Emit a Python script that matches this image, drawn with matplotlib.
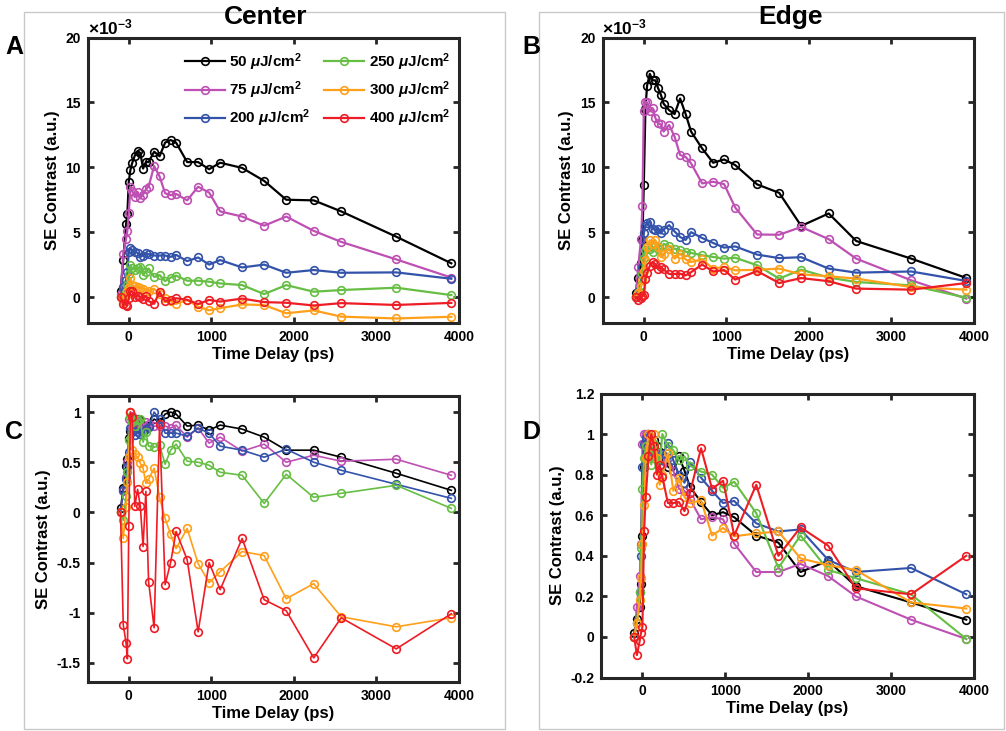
import numpy as np
import matplotlib
matplotlib.use("Agg")
import matplotlib.pyplot as plt
from matplotlib.patches import Rectangle
from matplotlib.ticker import FuncFormatter

plt.rcParams["font.family"] = ["Liberation Sans", "DejaVu Sans"]
plt.rcParams["font.weight"] = "bold"
plt.rcParams["axes.unicode_minus"] = False
plt.rcParams["mathtext.fontset"] = "custom"
plt.rcParams["mathtext.rm"] = "Liberation Sans:bold"
plt.rcParams["mathtext.it"] = "Liberation Sans:italic"
plt.rcParams["mathtext.bf"] = "Liberation Sans:bold"

#### Data (time delay in ps, contrast in units of 1e-3 for A/B, normalised for C/D)

t = [-100, -67, -33, -17, 0, 20, 40, 73, 107, 140, 173, 207, 240, 307, 373,
     440, 507, 573, 707, 840, 973, 1107, 1373, 1640, 1907, 2240, 2573, 3240, 3907]

labels = ["50 $\\mu$J/cm$^{2}$", "75 $\\mu$J/cm$^{2}$", "200 $\\mu$J/cm$^{2}$",
          "250 $\\mu$J/cm$^{2}$", "300 $\\mu$J/cm$^{2}$", "400 $\\mu$J/cm$^{2}$"]
colors = ["#000000", "#BE50B4", "#3352AA", "#66BE44", "#FF9F1A", "#EE1C24"]

# panel A - center
a_50 = [0.5, 2.85, 5.6, 6.4, 8.9, 9.8, 10.3, 10.9, 11.25, 11.1, 9.9, 10.4, 10.4, 11.2, 10.85,
        11.9, 12.1, 11.9, 10.4, 10.4, 9.85, 10.35, 9.95, 8.95, 7.5, 7.45, 6.6, 4.65, 2.6]
a_75 = [0.2, 3.3, 4.5, 5.1, 6.5, 8.5, 8.2, 7.7, 8.1, 7.6, 7.9, 8.3, 8.5, 10.1, 9.3,
        8.0, 7.85, 7.95, 7.45, 8.5, 8.05, 6.6, 6.2, 5.5, 6.2, 5.1, 4.25, 2.9, 1.5]
a_200 = [0.0, 0.8, 1.3, 1.9, 3.5, 3.75, 3.6, 3.5, 3.4, 3.1, 3.2, 3.4, 3.3, 3.2, 3.2,
         3.2, 3.1, 3.25, 2.77, 3.05, 2.5, 2.85, 2.28, 2.5, 1.87, 2.08, 1.87, 1.9, 1.41]
a_250 = [0.0, -0.2, 0.4, 0.9, 1.8, 2.45, 2.2, 2.1, 2.2, 2.35, 1.7, 1.95, 2.2, 1.55, 1.7,
         1.23, 1.5, 1.65, 1.26, 1.26, 1.18, 1.05, 0.92, 0.23, 0.92, 0.41, 0.54, 0.72, 0.15]
a_300 = [0.0, -0.38, 0.07, 0.44, 0.8, 1.45, 0.9, 0.84, 0.8, 0.71, 0.64, 0.42, 0.48, 0.64, 0.22,
         -0.09, -0.32, -0.52, -0.23, -0.74, -1.02, -0.86, -0.57, -0.62, -1.25, -1.03, -1.51, -1.65, -1.52]
a_400 = [0.0, -0.5, -0.58, -0.66, -0.06, 0.45, 0.43, 0.03, 0.1, 0.03, -0.15, 0.1, -0.31, -0.52, 0.4,
         -0.32, -0.22, -0.09, -0.21, -0.54, -0.22, -0.35, -0.12, -0.39, -0.44, -0.65, -0.47, -0.61, -0.45]

# panel B - edge
b_50 = [0.3, 1.5, 2.6, 4.4, 8.6, 14.5, 16.3, 17.2, 16.7, 16.7, 16.1, 15.6, 14.9, 14.4, 14.1,
        15.3, 14.1, 12.75, 11.45, 10.35, 10.6, 10.17, 8.68, 8.03, 5.48, 6.44, 4.32, 2.96, 1.47]
b_75 = [0.0, 2.3, 4.5, 7.0, 14.3, 15.06, 15.0, 14.3, 14.55, 13.8, 13.4, 13.3, 12.75, 13.26, 12.36,
        10.95, 10.8, 10.3, 8.76, 8.88, 8.7, 6.9, 4.82, 4.8, 5.4, 4.46, 2.96, 1.29, -0.12]
b_200 = [0.0, 0.4, 1.3, 2.3, 4.9, 5.5, 5.7, 5.8, 5.28, 5.15, 5.28, 4.9, 5.2, 5.54, 5.05,
         4.63, 4.4, 5.0, 4.55, 4.17, 3.81, 3.9, 3.27, 3.0, 3.07, 2.19, 1.88, 1.97, 1.24]
b_250 = [0.0, 0.3, 0.9, 1.8, 3.0, 3.6, 3.86, 3.7, 3.5, 3.9, 3.73, 3.5, 4.1, 3.9, 3.73,
         3.6, 3.5, 3.4, 3.22, 3.09, 2.96, 3.03, 2.45, 1.42, 2.11, 1.5, 1.16, 0.9, -0.05]
b_300 = [0.0, 0.3, 0.8, 1.29, 2.0, 2.83, 3.86, 4.38, 4.12, 4.38, 3.86, 3.09, 3.35, 3.73, 2.96,
         3.35, 2.9, 2.7, 2.9, 2.19, 2.32, 2.06, 2.1, 2.19, 1.75, 1.6, 1.42, 0.77, 0.57]
b_400 = [0.0, -0.25, -0.05, 0.05, 0.14, 1.4, 1.86, 2.4, 2.7, 2.54, 2.16, 2.3, 2.13, 1.78, 1.78,
         1.8, 1.67, 1.92, 2.5, 1.97, 2.08, 1.35, 2.0, 1.08, 1.46, 1.22, 0.65, 0.57, 1.08]

# panel C - center, normalised
c_50 = [0.04, 0.24, 0.46, 0.53, 0.74, 0.81, 0.85, 0.9, 0.93, 0.92, 0.82, 0.86, 0.86, 0.93, 0.9,
        0.98, 1.0, 0.98, 0.86, 0.87, 0.82, 0.87, 0.83, 0.75, 0.62, 0.62, 0.55, 0.39, 0.22]
c_75 = [0.0, 0.21, 0.35, 0.5, 0.93, 1.0, 0.96, 0.93, 0.9, 0.83, 0.85, 0.9, 0.88, 0.86, 0.86,
        0.86, 0.84, 0.87, 0.75, 0.84, 0.69, 0.75, 0.61, 0.68, 0.5, 0.57, 0.51, 0.53, 0.37]
c_200 = [0.0, 0.22, 0.33, 0.45, 0.6, 0.84, 0.8, 0.77, 0.8, 0.78, 0.8, 0.83, 0.85, 1.0, 0.93,
         0.79, 0.79, 0.79, 0.76, 0.84, 0.79, 0.66, 0.62, 0.55, 0.63, 0.5, 0.42, 0.28, 0.14]
c_250 = [0.0, -0.08, 0.16, 0.4, 0.72, 0.95, 0.9, 0.86, 0.92, 0.93, 0.7, 0.8, 0.66, 0.65, 0.67,
         0.48, 0.62, 0.68, 0.51, 0.5, 0.47, 0.4, 0.37, 0.09, 0.38, 0.15, 0.19, 0.27, 0.04]
c_300 = [0.0, -0.26, 0.05, 0.3, 0.55, 1.0, 0.62, 0.58, 0.55, 0.49, 0.44, 0.29, 0.33, 0.44, 0.15,
         -0.06, -0.22, -0.36, -0.16, -0.51, -0.70, -0.59, -0.39, -0.43, -0.86, -0.71, -1.04, -1.14, -1.05]
c_400 = [0.0, -1.12, -1.3, -1.46, -0.14, 1.0, 0.95, 0.06, 0.23, 0.06, -0.34, 0.21, -0.69, -1.15, 0.88,
         -0.72, -0.5, -0.19, -0.47, -1.19, -0.5, -0.77, -0.26, -0.87, -0.98, -1.45, -1.05, -1.36, -1.01]

# panel D - edge, normalised
d_50 = [0.02, 0.09, 0.15, 0.26, 0.5, 0.84, 0.95, 1.0, 0.97, 0.97, 0.94, 0.91, 0.87, 0.84, 0.82,
        0.89, 0.82, 0.74, 0.665, 0.6, 0.615, 0.59, 0.5, 0.465, 0.32, 0.375, 0.25, 0.17, 0.085]
d_75 = [0.0, 0.15, 0.3, 0.46, 0.95, 1.0, 1.0, 0.95, 0.97, 0.92, 0.89, 0.88, 0.85, 0.88, 0.82,
        0.73, 0.72, 0.68, 0.58, 0.59, 0.58, 0.46, 0.32, 0.32, 0.36, 0.3, 0.2, 0.085, -0.01]
d_200 = [0.0, 0.07, 0.22, 0.4, 0.84, 0.95, 0.98, 1.0, 0.91, 0.89, 0.91, 0.84, 0.9, 0.955, 0.87,
         0.8, 0.76, 0.86, 0.785, 0.72, 0.66, 0.67, 0.56, 0.52, 0.53, 0.38, 0.32, 0.34, 0.21]
d_250 = [0.0, 0.07, 0.22, 0.44, 0.73, 0.88, 0.94, 0.9, 0.85, 0.95, 0.91, 0.85, 1.0, 0.94, 0.92,
         0.87, 0.89, 0.845, 0.815, 0.8, 0.735, 0.765, 0.61, 0.34, 0.5, 0.33, 0.29, 0.21, -0.01]
d_300 = [0.0, 0.07, 0.18, 0.29, 0.46, 0.65, 0.88, 1.0, 0.94, 1.0, 0.88, 0.75, 0.8, 0.906, 0.72,
         0.785, 0.69, 0.66, 0.673, 0.5, 0.537, 0.496, 0.51, 0.52, 0.387, 0.354, 0.33, 0.17, 0.14]
d_400 = [0.0, -0.09, -0.02, 0.02, 0.05, 0.52, 0.69, 0.89, 1.0, 0.94, 0.8, 0.85, 0.79, 0.66, 0.66,
         0.665, 0.62, 0.71, 0.93, 0.73, 0.77, 0.5, 0.75, 0.4, 0.54, 0.45, 0.24, 0.21, 0.4]

#### Figure

W, H = 1006, 731
fig = plt.figure(figsize=(W / 100, H / 100), dpi=100)


def box(l, tp, r, b):
    # pixel box -> figure fraction [left, bottom, width, height]
    return [l / W, 1 - b / H, (r - l) / W, (b - tp) / H]


# light frames around each column
fig.patches.append(Rectangle((24 / W, 1 - 729 / H), (505 - 24) / W, (729 - 12) / H,
                             transform=fig.transFigure, fill=False, ec="#c8c8c8", lw=1))
fig.patches.append(Rectangle((539 / W, 1 - 729 / H), (1004 - 539) / W, (729 - 12) / H,
                             transform=fig.transFigure, fill=False, ec="#c8c8c8", lw=1))

axA = fig.add_axes(box(87.5, 37.5, 459, 323))
axB = fig.add_axes(box(602.5, 37.5, 974, 323))
axC = fig.add_axes(box(87.5, 396, 459, 682))
axD = fig.add_axes(box(601, 393.5, 974, 677.5))

fmt = FuncFormatter(lambda v, p: "%g" % round(v, 2))


def panel(ax, series, lw):
    for vals, c, lab in zip(series, colors, labels):
        ax.plot(t, vals, "-o", color=c, mfc="none", ms=5.5, mew=1.2, lw=lw, label=lab)
    ax.set_xlim(-500, 4000)
    ax.set_xticks([0, 1000, 2000, 3000, 4000])
    for s in ax.spines.values():
        s.set_linewidth(2.2)
        s.set_color("#262626")
    ax.tick_params(direction="in", length=4, width=2, top=True, right=True,
                   labelsize=10, color="#262626", pad=5)
    ax.yaxis.set_major_formatter(fmt)
    ax.set_xlabel("Time Delay (ps)", fontsize=12, fontweight="bold", labelpad=2)
    ax.set_ylabel("SE Contrast (a.u.)", fontsize=12, fontweight="bold", labelpad=4)


panel(axA, [a_50, a_75, a_200, a_250, a_300, a_400], 1.6)
axA.set_ylim(-2, 20)
axA.set_yticks([0, 5, 10, 15, 20])
axA.text(0.0, 1.0, "$\\times$10$^{-3}$", transform=axA.transAxes, fontsize=12.5,
         fontweight="bold", va="bottom", ha="left")
axA.legend(ncol=2, frameon=False, loc="upper right", bbox_to_anchor=(1.0, 0.985),
           prop={"weight": "bold", "size": 11}, handlelength=2.6, handletextpad=0.3,
           columnspacing=0.9, labelspacing=0.45, borderaxespad=0.2)

panel(axB, [b_50, b_75, b_200, b_250, b_300, b_400], 1.6)
axB.set_ylim(-2, 20)
axB.set_yticks([0, 5, 10, 15, 20])
axB.text(0.0, 1.0, "$\\times$10$^{-3}$", transform=axB.transAxes, fontsize=12.5,
         fontweight="bold", va="bottom", ha="left")

panel(axC, [c_50, c_75, c_200, c_250, c_300, c_400], 1.2)
axC.set_ylim(-1.69, 1.16)
axC.set_yticks([-1.5, -1, -0.5, 0, 0.5, 1])

panel(axD, [d_50, d_75, d_200, d_250, d_300, d_400], 1.5)
axD.set_ylim(-0.2, 1.2)
axD.set_yticks([-0.2, 0, 0.2, 0.4, 0.6, 0.8, 1.0, 1.2])

fig.text(266 / W, 1 - 17 / H, "Center", fontsize=19, fontweight="bold", ha="center", va="center")
fig.text(790 / W, 1 - 17 / H, "Edge", fontsize=19, fontweight="bold", ha="center", va="center")
for x, y, s in [(14, 47, "A"), (531, 47, "B"), (14, 432, "C"), (531, 432, "D")]:
    fig.text(x / W, 1 - y / H, s, fontsize=18, fontweight="bold", ha="center", va="center")

fig.savefig("out.png", dpi=100)
